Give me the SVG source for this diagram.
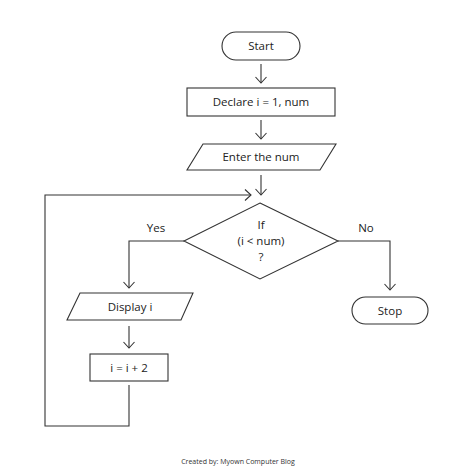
<svg xmlns="http://www.w3.org/2000/svg" width="474" height="474" viewBox="0 0 474 474">
<style>
.s{fill:#fff;stroke:#333;stroke-width:1.1}
.c{fill:none;stroke:#333;stroke-width:1.1}
.t{font-family:"Open Sans","Liberation Sans",sans-serif;font-size:11.5px;fill:#222;text-anchor:middle}
.f{font-family:"Open Sans","Liberation Sans",sans-serif;font-size:7px;fill:#333;text-anchor:middle}
</style>
<defs>
<marker id="a" markerUnits="userSpaceOnUse" markerWidth="14" markerHeight="14" viewBox="-7 -7 14 14" refX="0" refY="0" orient="auto">
<polyline points="-6,-5.5 0,0 -6,5.5" fill="none" stroke="#333" stroke-width="1.1"/>
</marker>
</defs>
<rect width="474" height="474" fill="#fff"/>
<g id="connectors">
<line class="c" x1="261" y1="64" x2="261" y2="83" marker-end="url(#a)"/>
<line class="c" x1="261" y1="120" x2="261" y2="139" marker-end="url(#a)"/>
<line class="c" x1="261" y1="175" x2="261" y2="195" marker-end="url(#a)"/>
<polyline class="c" points="184,241 129,241 129,288" marker-end="url(#a)"/>
<polyline class="c" points="338,241 390,241 390,290" marker-end="url(#a)"/>
<line class="c" x1="129" y1="326" x2="129" y2="348" marker-end="url(#a)"/>
<polyline class="c" points="129,385 129,426 45,426 45,195 251,195" marker-end="url(#a)"/>
<text class="t" x="156" y="232">Yes</text>
<text class="t" x="366" y="232">No</text>
</g>
<g id="start">
<rect class="s" x="222" y="32" width="78" height="28" rx="14"/>
<text class="t" x="261" y="50">Start</text>
</g>
<g id="declare">
<rect class="s" x="187" y="88" width="148" height="28"/>
<text class="t" x="261" y="106">Declare i = 1, num</text>
</g>
<g id="enter">
<polygon class="s" points="203,144 336,144 320,170 187,170"/>
<text class="t" x="261" y="161">Enter the num</text>
</g>
<g id="decision">
<polygon class="s" points="260,203 338,241 260,279 184,241"/>
<text class="t" x="261" y="229">If</text>
<text class="t" x="261" y="245">(i &lt; num)</text>
<text class="t" x="261" y="261">?</text>
</g>
<g id="stop">
<rect class="s" x="352" y="297" width="76" height="27" rx="13.5"/>
<text class="t" x="390" y="315">Stop</text>
</g>
<g id="display">
<polygon class="s" points="80,293 193,293 181,320 67,320"/>
<text class="t" x="130" y="311">Display i</text>
</g>
<g id="increment">
<rect class="s" x="90" y="354" width="78" height="27"/>
<text class="t" x="129" y="372">i = i + 2</text>
</g>
<text class="f" x="238" y="464">Created by: Myown Computer Blog</text>
</svg>
